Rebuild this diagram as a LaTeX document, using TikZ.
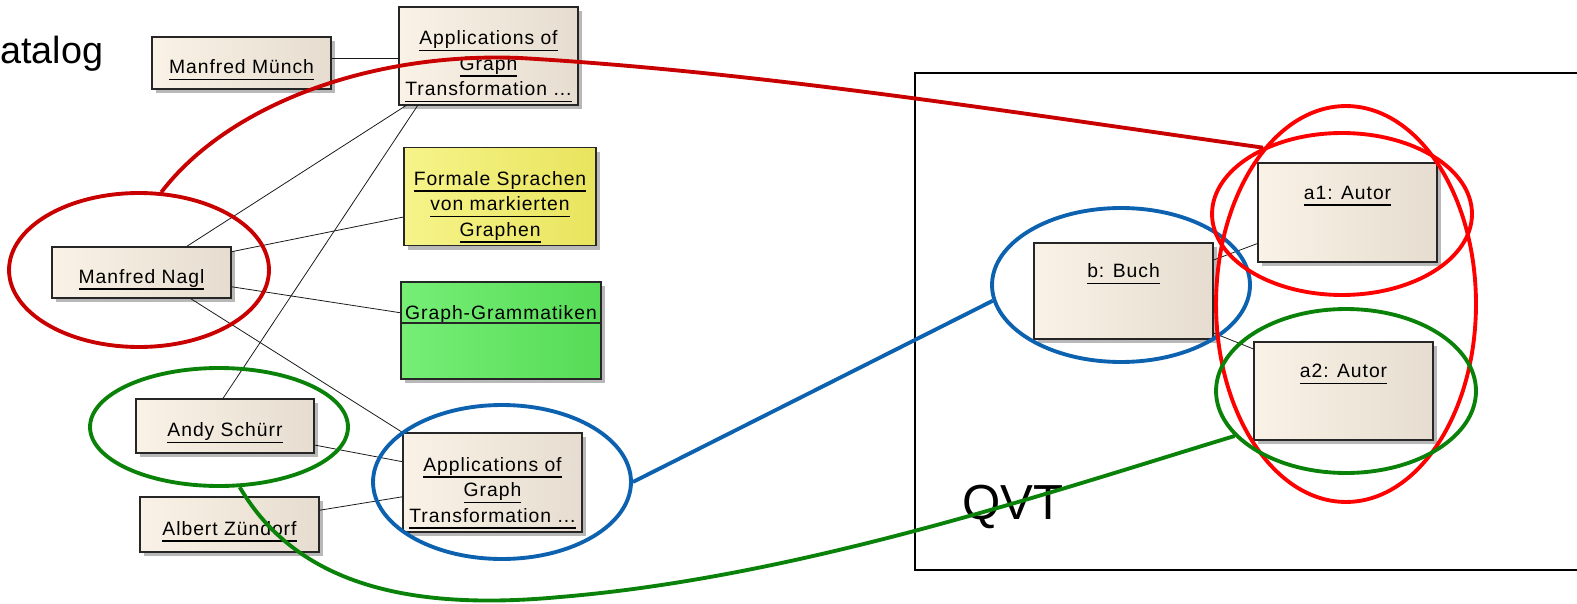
\documentclass[tikz,border=0pt]{standalone}
\usepackage{fontspec}
\setmainfont{Liberation Sans}
\newfontfamily\umlfont[LetterSpace=5]{Liberation Sans}
\usetikzlibrary{shapes.geometric, shadows}
\definecolor{umlbeigeA}{HTML}{FAF2E6}
\definecolor{umlbeigeB}{HTML}{E6DDD0}
\definecolor{umlyellowA}{HTML}{F6F48A}
\definecolor{umlyellowB}{HTML}{E9E45E}
\definecolor{umlgreenA}{HTML}{76EE76}
\definecolor{umlgreenB}{HTML}{56DC56}
\definecolor{markdarkred}{HTML}{C80000}
\definecolor{markred}{HTML}{FF0000}
\definecolor{markblue}{HTML}{0D62B0}
\definecolor{markgreen}{HTML}{0A820A}
\newcommand{\objname}[1]{\setbox0\hbox{#1}\leavevmode\rlap{\rule[-3.6pt]{\wd0}{0.75pt}}\box0}
\newcommand{\linestrut}{\rule{0pt}{16pt}}
\newcommand{\stackstrut}{\rule{0pt}{20pt}}
\tikzstyle{umlbox} = [rectangle, draw=black!85, line width=0.8pt, align=center, inner xsep=1pt, inner ysep=0pt,
font=\umlfont\fontsize{11}{14.5}\selectfont, left color=umlbeigeA, right color=umlbeigeB,
drop shadow={shadow xshift=2.4pt, shadow yshift=-2.4pt, fill=black!35, opacity=0.8}]
\tikzstyle{entity} = [umlbox, minimum width=3.58cm]
\tikzstyle{instance} = [umlbox, minimum width=3.58cm, minimum height=1.96cm, text height=8pt, text depth=23pt]
\tikzstyle{link} = [black!90, line width=0.45pt]
\tikzstyle{marker} = [ellipse, line width=2.2pt, inner sep=0pt]
\tikzstyle{trace} = [line width=2.2pt]

\begin{document}
\begin{tikzpicture}[x=0.02cm, y=-0.02cm]
\useasboundingbox (0,0) rectangle (1577,604);

% ------------------------- frame and titles -------------------------
\draw[line width=1.6pt] (1577,73) -- (915,73) -- (915,570) -- (1577,570);
\node(katalog)[anchor=base west, inner sep=0pt, font=\fontsize{21.5}{24}\selectfont] at (0,64) {atalog};
\node(qvt)[anchor=base west, inner sep=0pt, font=\fontsize{28}{32}\selectfont] at (962,519) {QVT};

% ------------------------- nodes -------------------------

% ----- node: muench
\node(muench)[entity, minimum height=1.04cm] at (241.5,63) {\linestrut\objname{Manfred Münch}};
% ----- node: appTop
\node(appTop)[entity, minimum height=1.96cm] at (488.5,56) {\stackstrut\objname{Applications of}\\\objname{Graph}\\\objname{Transformation ...}};
% ----- node: formal
\node(formal)[entity, minimum width=3.84cm, minimum height=1.96cm, left color=umlyellowA, right color=umlyellowB] at (500,196.5) {\stackstrut\objname{Formale Sprachen}\\\objname{von markierten}\\\objname{Graphen}};
% ----- node: gramm
\node(gramm)[umlbox, minimum width=4cm, minimum height=1.94cm, text height=8pt, text depth=21pt, left color=umlgreenA, right color=umlgreenB] at (501,330.5) {Graph-Grammatiken};
% ----- node: nagl
\node(nagl)[entity, minimum height=1.02cm] at (141.5,272.5) {\linestrut\objname{Manfred Nagl}};
% ----- node: schuerr
\node(schuerr)[entity, minimum width=3.56cm, minimum height=1.08cm] at (225,426) {\linestrut\objname{Andy Schürr}};
% ----- node: zuendorf
\node(zuendorf)[entity, minimum height=1.1cm] at (229.5,524.5) {\linestrut\objname{Albert Zündorf}};
% ----- node: appBottom
\node(appBottom)[entity, minimum height=1.98cm] at (492.5,482.5) {\stackstrut\objname{Applications of}\\\objname{Graph}\\\objname{Transformation ...}};
% ----- node: buch
\node(buch)[instance, minimum height=1.92cm] at (1123.5,291) {\objname{b: Buch}};
% ----- node: aut1
\node(aut1)[instance, minimum height=1.98cm] at (1347.5,212.5) {\objname{a1: Autor}};
% ----- node: aut2
\node(aut2)[instance] at (1343.5,391) {\objname{a2: Autor}};

% ------------------------- links -------------------------
\draw[line width=0.8pt, black!85] ([yshift=0.15cm]gramm.west) -- ([yshift=0.15cm]gramm.east);
\draw[link] (muench.3) -- (muench.3 -| appTop.west);
\draw[link] (nagl.30) -- (appTop.211);
\draw[link] (schuerr.94) -- (appTop.215);
\draw[link] (nagl.13) -- (formal.192);
\draw[link] (nagl.-9) -- (gramm.170);
\draw[link] (nagl.-28) -- (appBottom.north west);
\draw[link] (schuerr.-12) -- (appBottom.167);
\draw[link] (zuendorf.9) -- (appBottom.189);
\draw[link] (buch.19) -- (aut1.199);
\draw[link] (buch.-25) -- (aut2.155);

% ------------------------- markings -------------------------
\node(eNagl)[marker, draw=markdarkred, minimum width=5.2cm, minimum height=3.08cm] at (139,270) {};
\node(eSchuerr)[marker, draw=markgreen, minimum width=5.16cm, minimum height=2.36cm] at (219,427) {};
\node(eAppB)[marker, draw=markblue, minimum width=5.16cm, minimum height=3.08cm] at (502,482) {};
\node(eBuch)[marker, draw=markblue, minimum width=5.16cm, minimum height=3.08cm] at (1121,285) {};
\node(eAut1)[marker, draw=markred, minimum width=5.2cm, minimum height=3.24cm] at (1342,214) {};
\node(eAll)[marker, draw=markred, minimum width=5.2cm, minimum height=7.92cm] at (1346,304) {};
\node(eAut2)[marker, draw=markgreen, minimum width=5.2cm, minimum height=3.28cm] at (1346,391) {};

\coordinate (redbend) at (520,58);
\coordinate (greenlow) at (560,597);
\draw[trace, markdarkred] (eNagl.74) .. controls (228,105) and (370,52) .. (redbend) .. controls (760,72) and (1010,112) .. (eAut1.140);
\draw[trace, markblue] (eAppB.0) -- (eBuch.187);
\draw[trace, markgreen] (eSchuerr.-71) .. controls (300,590) and (420,610) .. (greenlow) .. controls (800,577) and (1050,492) .. (eAut2.202);

\end{tikzpicture}
\end{document}
